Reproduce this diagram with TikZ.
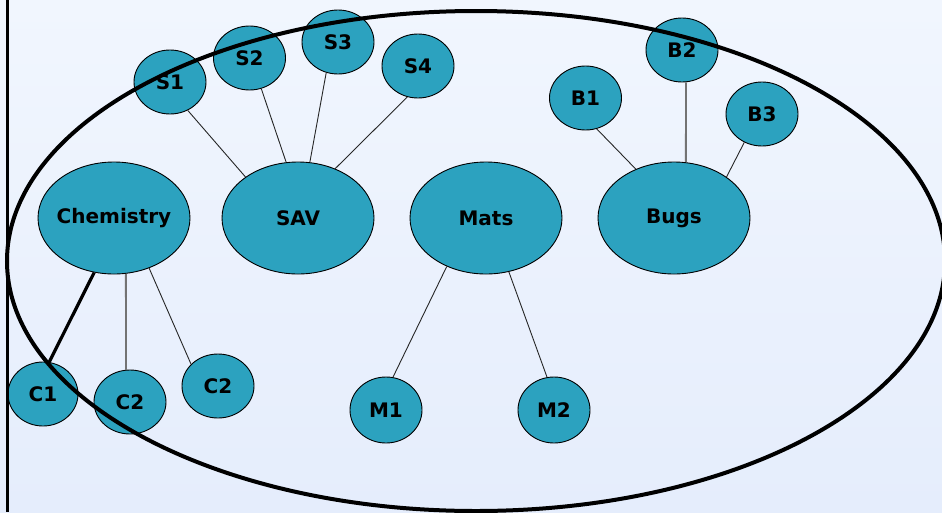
\documentclass[tikz,border=0pt]{standalone}
\usepackage{fontspec}
\setmainfont{DejaVu Sans}
\usetikzlibrary{shapes.geometric}
\definecolor{nodefill}{RGB}{44,162,191}
\definecolor{bgtop}{RGB}{241,246,254}
\definecolor{bgbot}{RGB}{229,237,252}
\begin{document}
\begin{tikzpicture}[x=1pt,y=-1pt,
  bub/.style={ellipse, draw=black, line width=0.9pt, fill=nodefill, inner sep=-8pt,
    font=\bfseries\fontsize{20}{24}\selectfont},
  bignode/.style={bub, minimum width=152pt, minimum height=112pt},
  smallnode/.style={bub, minimum width=72pt, minimum height=64pt},
  thinlink/.style={draw=black!85, line width=0.9pt},
  greylink/.style={draw=black!55, line width=1.8pt},
  thicklink/.style={draw=black, line width=3.2pt}]
\shade[top color=bgtop, bottom color=bgbot] (0,0) rectangle (942,512);
\useasboundingbox (0,0) rectangle (942,512);

\node[bignode] (chem) at (114,218) {Chemistry};
\node[bignode] (sav) at (298,218) {SAV};
\node[bignode] (mats) at (486,218) {Mats};
\node[bignode] (bugs) at (674,218) {Bugs};
\node[smallnode] (s1) at (170,82) {S1};
\node[smallnode] (s2) at (249.5,58) {S2};
\node[smallnode] (s3) at (338,42) {S3};
\node[smallnode] (s4) at (418,66) {S4};
\node[smallnode] (b1) at (585.5,98) {B1};
\node[smallnode] (b2) at (682,50) {B2};
\node[smallnode] (b3) at (762,114) {B3};
\node[smallnode, minimum width=70pt] (c1) at (43,394) {C1};
\node[smallnode] (c2a) at (130,402) {C2};
\node[smallnode] (c2b) at (218,386) {C2};
\node[smallnode, minimum height=66pt] (m1) at (386,410) {M1};
\node[smallnode, minimum height=66pt] (m2) at (554,410) {M2};

\draw[thicklink] (chem.250) -- (c1.79);
\draw[greylink] (chem.282) -- (c2a.97);
\draw[thinlink] (chem.305) -- (c2b.141);
\draw[thinlink] (s1.302) -- (sav.142);
\draw[thinlink] (s2.291) -- (sav.102);
\draw[thinlink] (s3.249) -- (sav.78);
\draw[thinlink] (s4.251) -- (sav.53);
\draw[thinlink] (b1.290) -- (bugs.128);
\draw[greylink] (b2.277) -- (bugs.78);
\draw[thinlink] (b3.238) -- (bugs.38);
\draw[thinlink] (mats.231) -- (m1.78);
\draw[thinlink] (mats.293) -- (m2.102);

\draw[line width=4pt] (476,261) ellipse [x radius=469, y radius=250];
\draw[line width=3pt] (7,0) -- (7,512);
\end{tikzpicture}
\end{document}
